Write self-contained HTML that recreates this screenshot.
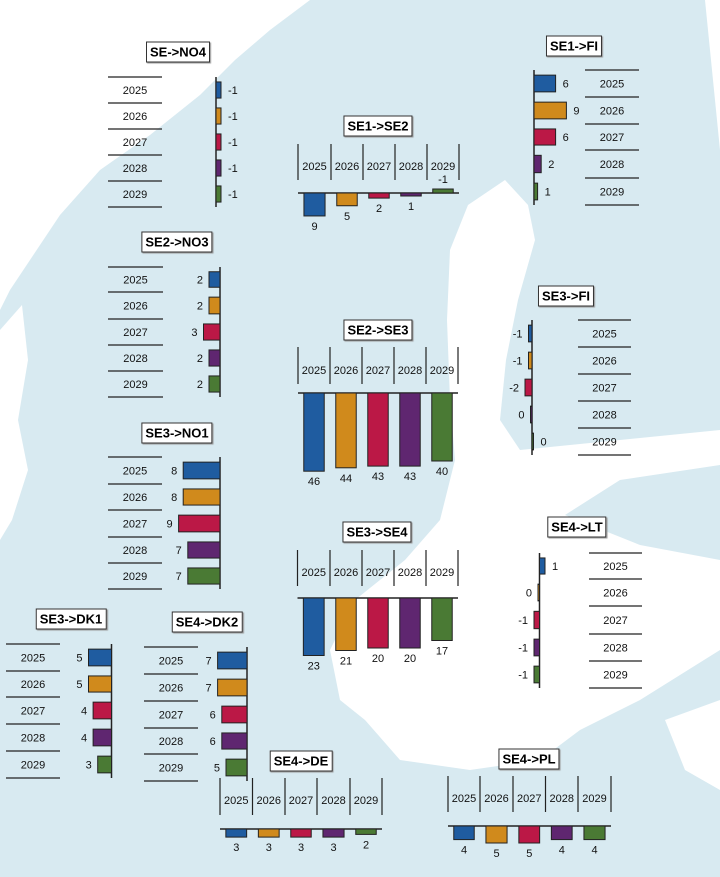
<!DOCTYPE html>
<html><head><meta charset="utf-8"><style>
html,body{margin:0;padding:0;background:#fff}
#w{position:relative;width:720px;height:877px;overflow:hidden;font-family:"Liberation Sans",sans-serif}
.t{position:absolute;transform:translate(-50%,-50%);background:#fff;border:1px solid #333;box-shadow:1px 1px 1px #999;padding:2px 3px;font-weight:bold;font-size:13px;white-space:nowrap;color:#000}
svg{position:absolute;left:0;top:0}
</style></head><body><div id="w">
<svg id="s" width="720" height="877" viewBox="0 0 720 877">
<rect width="720" height="877" fill="#d8eaf1"/>
<polygon fill="#fff" points="0,0 310,0 270,30 235,60 200,95 150,135 100,170 60,215 30,260 10,290 0,310"/>
<polygon fill="#fff" points="705,0 720,0 720,150"/>
<polygon fill="#fff" points="468,205 505,180 528,205 535,240 518,300 506,360 500,420 520,450 620,440 720,430 720,465 620,480 565,515 640,545 720,560 720,650 640,700 580,730 540,760 470,770 400,760 365,720 340,700 330,650 355,600 405,560 440,520 455,460 450,400 447,320 450,250"/>
<polygon fill="#fff" points="0,330 22,305 28,360 18,420 28,470 12,520 0,540"/>
<polygon fill="#fff" points="665,720 720,700 720,790 685,770"/>
</svg>
</div>
<script>
var C=["#1f5ca0","#d08a1c","#bb1846","#5f2670","#4a7a34"];
var Y=["2025","2026","2027","2028","2029"];
var s=document.getElementById('s'),w=document.getElementById('w');
function el(n,a,t){var e=document.createElementNS("http://www.w3.org/2000/svg",n);for(var k in a)e.setAttribute(k,a[k]);if(t!==undefined)e.textContent=t;s.appendChild(e);return e;}
function title(t,x,y){var d=document.createElement('div');d.className='t';d.style.left=x+'px';d.style.top=y+'px';d.textContent=t;w.appendChild(d);}
function txt(x,y,t,anchor){el('text',{x:x,y:y,'font-size':'11','text-anchor':anchor||'middle','font-family':'Liberation Sans, sans-serif',fill:'#111'},t);}
function H(o){title(o.t,o.tx,o.ty);
 var ys=o.ys;
 for(var i=0;i<6;i++)el('line',{x1:o.l1,x2:o.l2,y1:ys[i],y2:ys[i],stroke:'#222','stroke-width':1.2});
 el('line',{x1:o.ax,x2:o.ax,y1:ys[0],y2:ys[5],stroke:'#222','stroke-width':1.5});
 for(var i=0;i<5;i++){var cy=(ys[i]+ys[i+1])/2;txt((o.l1+o.l2)/2+(o.yo||0),cy+4,Y[i]);
  var v=o.v[i],L=Math.max(Math.abs(v)*o.sc,1.5),d=o.d[i],bh=(ys[i+1]-ys[i])*0.62;
  var x=d>0?o.ax:o.ax-L;
  el('rect',{x:x,y:cy-bh/2,width:L,height:bh,fill:C[i],stroke:'#222','stroke-width':1});
  var ld=o.ld?o.ld[i]:d;
  if(ld>0)txt(o.ax+(d>0?L:0)+7,cy+4,String(v),'start');else txt(o.ax-(d<0?L:0)-6,cy+4,String(v),'end');}
}
function V(o){title(o.t,o.tx,o.ty);
 var xs=o.xs;
 for(var i=0;i<6;i++)el('line',{x1:xs[i],x2:xs[i],y1:o.s1,y2:o.s2,stroke:'#222','stroke-width':1.2});
 el('line',{x1:xs[0],x2:xs[5],y1:o.ay,y2:o.ay,stroke:'#222','stroke-width':1.5});
 for(var i=0;i<5;i++){var cx=(xs[i]+xs[i+1])/2;txt(cx,o.yy+4,Y[i]);
  var v=o.v[i],L=Math.max(Math.abs(v)*o.sc,3),bw=(xs[i+1]-xs[i])*0.64;
  if(v<0){el('rect',{x:cx-bw/2,y:o.ay-4,width:bw,height:4,fill:C[i],stroke:'#222','stroke-width':1});txt(cx,o.ay-10,String(v));}
  else{el('rect',{x:cx-bw/2,y:o.ay,width:bw,height:L,fill:C[i],stroke:'#222','stroke-width':1});txt(cx,o.ay+L+(o.lg||14),String(v));}}
}
H({t:'SE->NO4',tx:178,ty:52,ys:[77,103,129,155,181,207],l1:108,l2:162,ax:216,v:[-1,-1,-1,-1,-1],sc:5,d:[1,1,1,1,1]});
H({t:'SE1->FI',tx:574,ty:46,ys:[70,97,124,150,178,205],l1:585,l2:639,ax:534,v:[6,9,6,2,1],sc:3.6,d:[1,1,1,1,1]});
H({t:'SE2->NO3',tx:177,ty:242,ys:[267,292,319,345,371,397],l1:108,l2:163,ax:220,v:[2,2,3,2,2],sc:5.5,d:[-1,-1,-1,-1,-1]});
H({t:'SE3->FI',tx:566,ty:296,ys:[320,347,374,401,428,455],l1:578,l2:631,ax:532,v:[-1,-1,-2,0,0],sc:3.5,d:[-1,-1,-1,-1,1],ld:[-1,-1,-1,-1,1]});
H({t:'SE3->NO1',tx:177,ty:433,ys:[457,484,510,537,563,589],l1:108,l2:162,ax:220,v:[8,8,9,7,7],sc:4.6,d:[-1,-1,-1,-1,-1]});
H({t:'SE4->LT',tx:577,ty:527,ys:[553,579,606,634,661,688],l1:589,l2:642,ax:539.5,v:[1,0,-1,-1,-1],sc:5.5,d:[1,-1,-1,-1,-1]});
H({t:'SE3->DK1',tx:71,ty:619,ys:[644,671,697,724,751,778],l1:6,l2:60,ax:111.5,v:[5,5,4,4,3],sc:4.6,d:[-1,-1,-1,-1,-1]});
H({t:'SE4->DK2',tx:207,ty:622,ys:[647,674,701,728,754,781],l1:144,l2:198,ax:247,v:[7,7,6,6,5],sc:4.2,d:[-1,-1,-1,-1,-1]});
V({t:'SE1->SE2',tx:378,ty:126,xs:[298,331,363,395,427,459],s1:144,s2:180,yy:166,ay:193,v:[9,5,2,1,-1],sc:2.55});
V({t:'SE2->SE3',tx:378,ty:330,xs:[298,330,362,394,426,458],s1:347,s2:384,yy:370,ay:393,v:[46,44,43,43,40],sc:1.7});
V({t:'SE3->SE4',tx:377,ty:532,xs:[297.5,330,362,394,426,458],s1:550,s2:586,yy:572,ay:598,v:[23,21,20,20,17],sc:2.5});
V({t:'SE4->DE',tx:301,ty:761,xs:[220,252.5,285,317,350,382],s1:778,s2:815,yy:800,ay:829,v:[3,3,3,3,2],sc:2.7});
V({t:'SE4->PL',tx:529,ty:759,xs:[448,480,513,545.5,578,611],s1:776,s2:812,yy:798,ay:826,v:[4,5,5,4,4],sc:3.4});
</script>
</body></html>
